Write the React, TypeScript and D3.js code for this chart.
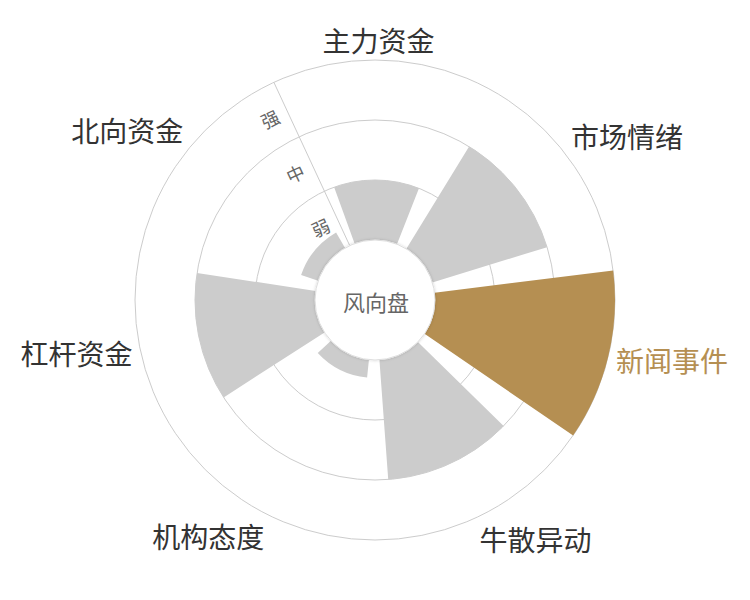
import React from "react";
import * as d3 from "d3";

const categories = ["主力资金", "市场情绪", "新闻事件", "牛散异动", "机构态度", "杠杆资金", "北向资金"];
const values = [1.0, 2.0, 3.0, 2.0, 0.3, 2.0, 0.3];
const highlight = "新闻事件";
const levelLabels = ["弱", "中", "强"];
const levelTicks = [1, 2, 3];

const W = 750;
const H = 600;
const cx = 375;
const cy = 300;
const inner = 60;
const outer = 240;
const rotDeg = 0.8;
const FONT = "'Noto Sans CJK SC', 'Noto Sans', sans-serif";

export default function App() {
  const n = categories.length;
  const step = (2 * Math.PI) / n;
  const rot = (rotDeg * Math.PI) / 180;
  const ang = d3
    .scaleBand<string>()
    .domain(categories)
    .range([-step / 2 + rot, 2 * Math.PI - step / 2 + rot])
    .paddingInner(0.195)
    .paddingOuter(0.0975);
  const r = d3.scaleLinear().domain([0, 3]).range([inner, outer]);
  const arc = d3.arc<any>();

  const axisAngle = -step / 2 + rot;
  const axisDeg = (axisAngle * 180) / Math.PI;
  const ux = Math.sin(axisAngle);
  const uy = -Math.cos(axisAngle);
  const px = -Math.cos(axisAngle);
  const py = -Math.sin(axisAngle);

  const labelR = outer + 8;

  return (
    <svg width={W} height={H} style={{ position: "absolute", left: 0, top: 0 }} fontFamily={FONT}>
      <defs>
        <filter id="holeShadow" x="-20%" y="-20%" width="140%" height="140%">
          <feDropShadow dx="0" dy="0" stdDeviation="1.5" floodColor="#000" floodOpacity="0.18" />
        </filter>
      </defs>
      <g transform={`translate(${cx},${cy})`}>
        {levelTicks.map((t) => (
          <circle key={t} r={r(t)} fill="none" stroke="#cccccc" strokeWidth={1} />
        ))}
        <line
          x1={ux * inner}
          y1={uy * inner}
          x2={ux * outer}
          y2={uy * outer}
          stroke="#cccccc"
          strokeWidth={1}
        />
        {categories.map((c, i) => {
          const a0 = ang(c)!;
          const a1 = a0 + ang.bandwidth();
          return (
            <path
              key={c}
              d={arc({ innerRadius: inner, outerRadius: r(values[i]), startAngle: a0, endAngle: a1 })!}
              fill={c === highlight ? "#b58f52" : "#cccccc"}
            />
          );
        })}
        {levelLabels.map((l, i) => {
          const along = r(i + 0.5) - 1;
          const x = ux * along + px * 19;
          const y = uy * along + py * 19;
          return (
            <text
              key={l}
              transform={`translate(${x},${y}) rotate(${axisDeg})`}
              textAnchor="middle"
              dominantBaseline="central"
              fontSize={18}
              fill="#666666"
            >
              {l}
            </text>
          );
        })}
        <circle r={inner} fill="#ffffff" stroke="#dddddd" strokeWidth={1} filter="url(#holeShadow)" />
        <text x={1} y={1} textAnchor="middle" dominantBaseline="central" fontSize={22} fill="#666666">
          风向盘
        </text>
        {categories.map((c) => {
          const a = ang(c)! + ang.bandwidth() / 2;
          const s = Math.sin(a);
          const co = Math.cos(a);
          const x = labelR * s;
          const y = -labelR * co;
          const anchor = Math.abs(s) < 0.1 ? "middle" : s > 0 ? "start" : "end";
          let yc = y;
          if (co > 0.3) yc = y - 12.5;
          else if (co < -0.3) yc = y + 14;
          else yc = y + 1.5;
          return (
            <text
              key={c}
              x={x}
              y={yc}
              textAnchor={anchor}
              dominantBaseline="central"
              fontSize={28}
              fill={c === highlight ? "#b58f52" : "#333333"}
            >
              {c}
            </text>
          );
        })}
      </g>
    </svg>
  );
}
